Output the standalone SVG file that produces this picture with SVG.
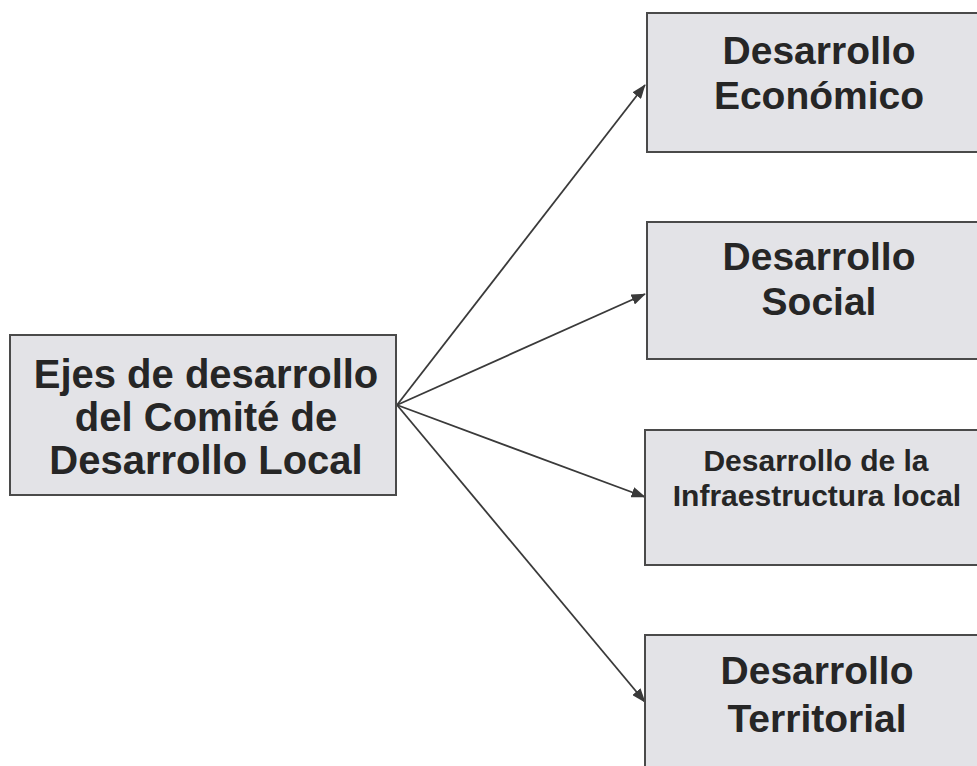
<svg xmlns="http://www.w3.org/2000/svg" width="977" height="766" viewBox="0 0 977 766">
<style>
.box{fill:#e3e3e7;stroke:#4a4a4a;stroke-width:2}
.t{font-family:"Liberation Sans",Arial,sans-serif;font-weight:bold;fill:#262626;text-anchor:middle}
.c{stroke:#3a3a3a;stroke-width:1.8;fill:none;marker-end:url(#ah)}
</style>
<defs>
<marker id="ah" markerWidth="8" markerHeight="6" refX="7.5" refY="3" orient="auto" markerUnits="strokeWidth">
<path d="M0,0 L8,3 L0,6 Z" fill="#3a3a3a"/>
</marker>
</defs>
<rect width="977" height="766" fill="#ffffff"/>
<g id="connectors">
<line class="c" x1="397" y1="405" x2="645" y2="85"/>
<line class="c" x1="397" y1="405" x2="645" y2="294"/>
<line class="c" x1="397" y1="405" x2="645" y2="497"/>
<line class="c" x1="397" y1="405" x2="645" y2="702"/>
</g>
<g id="root">
<rect class="box" x="10" y="335" width="386" height="160"/>
<text class="t" font-size="40" x="206" y="388">Ejes de desarrollo</text>
<text class="t" font-size="40" x="206" y="431">del Comité de</text>
<text class="t" font-size="40" x="206" y="474">Desarrollo Local</text>
</g>
<g id="economico">
<rect class="box" x="647" y="13" width="345" height="139"/>
<text class="t" font-size="39" x="819" y="64">Desarrollo</text>
<text class="t" font-size="39" x="819" y="109">Económico</text>
</g>
<g id="social">
<rect class="box" x="647" y="222" width="345" height="137"/>
<text class="t" font-size="39" x="819" y="270">Desarrollo</text>
<text class="t" font-size="39" x="819" y="315">Social</text>
</g>
<g id="infraestructura">
<rect class="box" x="645" y="430" width="347" height="135"/>
<text class="t" font-size="30" x="816" y="471">Desarrollo de la</text>
<text class="t" font-size="30" x="817" y="506">Infraestructura local</text>
</g>
<g id="territorial">
<rect class="box" x="645" y="635" width="347" height="145"/>
<text class="t" font-size="39" x="817" y="684">Desarrollo</text>
<text class="t" font-size="39" x="817" y="732">Territorial</text>
</g>
</svg>
